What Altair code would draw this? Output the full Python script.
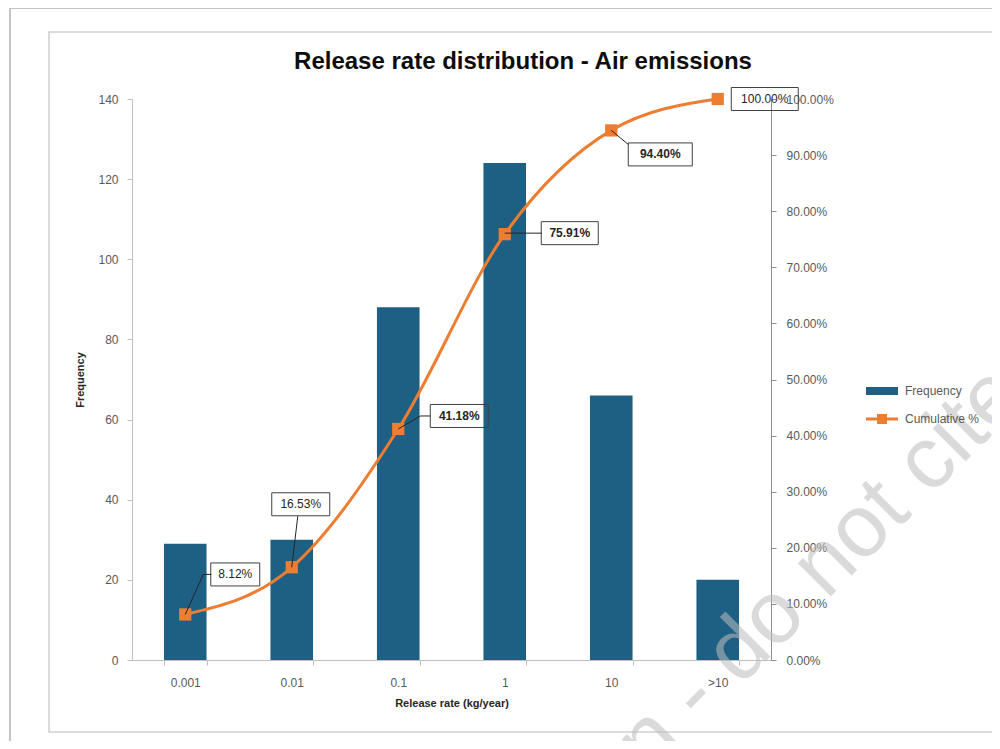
import altair as alt
import pandas as pd

# ---------------- data ----------------
categories = ["0.001", "0.01", "0.1", "1", "10", ">10"]
frequency = [29, 30, 88, 124, 66, 20]
cumulative_pct = [8.12, 16.53, 41.18, 75.91, 94.40, 100.00]
left_ticks = [0, 20, 40, 60, 80, 100, 120, 140]
right_ticks = [0.0, 0.1, 0.2, 0.3, 0.4, 0.5, 0.6, 0.7, 0.8, 0.9, 1.0]
series_names = ["Frequency", "Cumulative %"]
chart_title = "Release rate distribution - Air emissions"

df = pd.DataFrame({
    "cat": categories,
    "freq": frequency,
    "cum": [v / 100 for v in cumulative_pct],
})
one_row = pd.DataFrame({"k": [0]})

# ---------------- style ----------------
W, H = 639, 561
BLUE = "#1D6083"
ORANGE = "#ED7D31"
FONT = "Liberation Sans"
TITLE_FONT = "Liberation Sans Narrow, Liberation Sans"
LABEL_GREY = "#595959"

xscale = alt.Scale(domain=categories, paddingInner=0.6, paddingOuter=0.3)
xaxis = alt.Axis(
    title="Release rate (kg/year)", tickBand="extent", labelAngle=0,
    labelFont=FONT, labelFontSize=12, labelColor=LABEL_GREY, labelPadding=12,
    tickSize=5, tickColor="#bfbfbf", domainColor="#bfbfbf", grid=False,
    titleFont=FONT, titleFontSize=11, titleFontWeight="bold", titleColor="#262626",
    titlePadding=9,
)


def X():
    return alt.X("cat:N", scale=xscale, axis=xaxis)


left_axis = alt.Axis(
    orient="left", values=left_ticks, title="Frequency", grid=False,
    labelFont=FONT, labelFontSize=12, labelColor=LABEL_GREY, labelPadding=9,
    tickSize=5, tickColor="#bfbfbf", domainColor="#bfbfbf",
    titleFont=FONT, titleFontSize=11, titleFontWeight="bold", titleColor="#262626",
    titlePadding=12,
)
right_axis = alt.Axis(
    orient="right", values=right_ticks, format=".2%", title=None, grid=False,
    labelFont=FONT, labelFontSize=12, labelColor=LABEL_GREY, labelPadding=10,
    tickSize=5, tickColor="#8f8f8f", domainColor="#8f8f8f",
)


def YR():
    return alt.Y("cum:Q", scale=alt.Scale(domain=[0, 1]), axis=right_axis)


# ---------------- bars ----------------
bars = alt.Chart(df).mark_bar(color=BLUE).encode(
    x=X(),
    y=alt.Y("freq:Q", scale=alt.Scale(domain=[0, 140]), axis=left_axis),
)

# ---------------- cumulative line ----------------
line = alt.Chart(df).mark_line(color=ORANGE, strokeWidth=3, interpolate="monotone").encode(
    x=X(), y=YR()
)
markers = alt.Chart(df).mark_point(
    shape="square", filled=True, size=150, color=ORANGE, opacity=1
).encode(x=X(), y=YR())

# data-label placement (pixel offsets from each marker)
label_style = {
    "0.001": dict(dx=50, dy=-40, w=49, lead="M0,0L18,-40H26", bold=False),
    "0.01": dict(dx=9, dy=-63, w=58, lead="M0,0L6,-51", bold=False),
    "0.1": dict(dx=61, dy=-13, w=58, lead="M0,0L22,-13H32", bold=True),
    "1": dict(dx=65, dy=-1, w=57, lead="M0,-1H37", bold=True),
    "10": dict(dx=49, dy=24, w=64, lead="M0,0L17,14", bold=True),
    ">10": dict(dx=47, dy=0, w=67, lead=None, bold=False),
}
BOX_H = 23

label_layers = []
for cat in categories:
    st = label_style[cat]
    base = alt.Chart(df).transform_filter(alt.datum.cat == cat)
    x0, x1 = st["dx"] - st["w"] / 2, st["dx"] + st["w"] / 2
    y0, y1 = st["dy"] - BOX_H / 2, st["dy"] + BOX_H / 2
    box_path = f"M{x0},{y0}H{x1}V{y1}H{x0}Z"
    label_layers.append(
        base.mark_point(shape=box_path, size=4, filled=False, stroke="#404040",
                        strokeWidth=1, opacity=1).encode(x=X(), y=YR())
    )
    if st["lead"]:
        label_layers.append(
            base.mark_point(shape=st["lead"], size=4, filled=False, stroke="#262626",
                            strokeWidth=1, opacity=1).encode(x=X(), y=YR())
        )
    label_layers.append(
        base.mark_text(dx=st["dx"], dy=st["dy"], align="center", baseline="middle",
                       font=FONT, fontSize=12, color="#262626",
                       fontWeight="bold" if st["bold"] else "normal").encode(
            x=X(), y=YR(), text=alt.Text("cum:Q", format=".2%")
        )
    )

# ---------------- legend ----------------
RECT_PATH = "M-16,-4H16V4H-16Z"
LINE_PATH = "M-16,-1.5H-5V-5H5V-1.5H16V1.5H5V5H-5V1.5H-16Z"
legend = alt.Legend(
    orient="none", legendX=744, legendY=286, title=None, direction="vertical",
    symbolSize=4, symbolStrokeWidth=0, labelOffset=17, rowPadding=16,
    labelFont=FONT, labelFontSize=12, labelColor=LABEL_GREY,
)
legend_layer = alt.Chart(pd.DataFrame({"series": series_names})).transform_filter(
    "false"
).mark_point(filled=True, opacity=1).encode(
    color=alt.Color("series:N", scale=alt.Scale(domain=series_names, range=[BLUE, ORANGE]),
                    legend=legend),
    shape=alt.Shape("series:N", scale=alt.Scale(domain=series_names, range=[RECT_PATH, LINE_PATH]),
                    legend=legend),
)

right_layer = alt.layer(line, markers, *label_layers, legend_layer)

# ---------------- frames, title & watermark ----------------
outer_frame = alt.Chart(one_row).mark_rect(fill="white", fillOpacity=0, stroke="#c4c4c4",
                                           strokeWidth=2).encode(
    x=alt.value(-122), x2=alt.value(875), y=alt.value(-91), y2=alt.value(655)
)
inner_frame = alt.Chart(one_row).mark_rect(fill="white", fillOpacity=0, stroke="#cfcfcf",
                                           strokeWidth=1.5).encode(
    x=alt.value(-83), x2=alt.value(862), y=alt.value(-67), y2=alt.value(633)
)
title_mark = alt.Chart(one_row).mark_text(
    text=chart_title, align="center", baseline="middle",
    font=TITLE_FONT, fontSize=24, fontWeight="bold", color="#0d0d0d",
).encode(x=alt.value(391), y=alt.value(-37))

wm_after = alt.Chart(one_row).mark_text(
    text="- do not cite", align="left", baseline="alphabetic", angle=315,
    font=FONT, fontSize=88, color="#bdbdbd", opacity=0.55,
).encode(x=alt.value(570), y=alt.value(626))
wm_before = alt.Chart(one_row).mark_text(
    text="Draft for consultation", align="right", baseline="alphabetic", angle=315,
    dx=-24, font=FONT, fontSize=88, color="#bdbdbd", opacity=0.55,
).encode(x=alt.value(570), y=alt.value(626))

chart = alt.layer(
    outer_frame, inner_frame, title_mark, bars, right_layer, wm_before, wm_after
).resolve_scale(
    y="independent"
).properties(
    width=W, height=H,
    autosize=alt.AutoSizeParams(type="none"),
    padding={"left": 124, "top": 91, "right": 221, "bottom": 81},
    background="white",
).configure_view(stroke=None)

chart.save("out.html", embed_options={"renderer": "svg", "actions": False})
